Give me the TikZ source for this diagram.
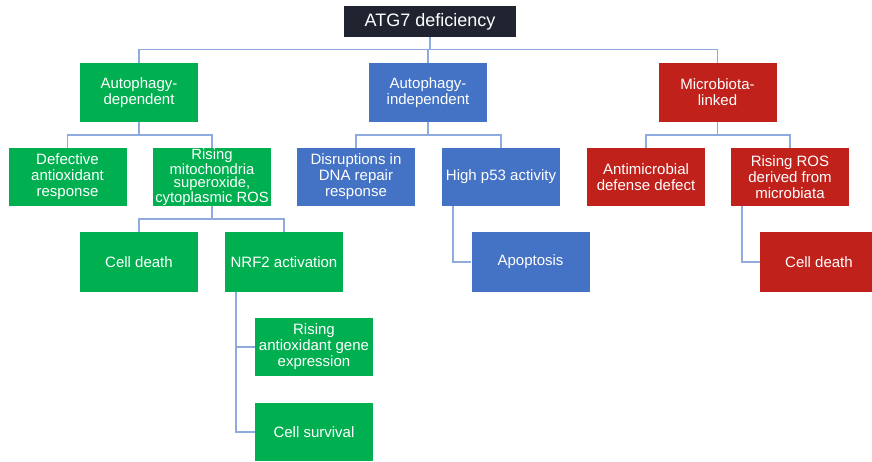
\documentclass[tikz,border=0pt]{standalone}
\usepackage{fontspec}
\setmainfont{Liberation Sans}
\usepackage{tikz}

\definecolor{rootbg}{RGB}{31,36,48}
\definecolor{boxgreen}{RGB}{0,176,80}
\definecolor{boxblue}{RGB}{68,114,196}
\definecolor{boxred}{RGB}{192,33,26}
\definecolor{linkblue}{RGB}{143,170,220}

\begin{document}
\begin{tikzpicture}[x=1pt,y=-1pt,
    box/.style={minimum width=118pt,minimum height=58pt,inner sep=0pt,
      text=white,align=center,font=\fontsize{15}{16}\selectfont},
    gbox/.style={box,fill=boxgreen},
    bbox/.style={box,fill=boxblue},
    rbox/.style={box,fill=boxred},
    link/.style={draw=linkblue,line width=1.5pt}]
  \useasboundingbox (0,0) rectangle (872,461);

  % Root
  \node[fill=rootbg,text=white,minimum width=172pt,minimum height=31pt,inner sep=0pt,
    font=\fontsize{18}{20}\selectfont] (root) at (430,21.5) {ATG7 deficiency};

  % First level
  \node[gbox,minimum height=59pt] (adep) at (139,92.5) {Autophagy-\\dependent};
  \node[bbox,minimum height=59pt] (aind) at (428,92.5) {Autophagy-\\independent};
  \node[rbox,minimum height=59pt] (micro) at (717.5,92.5) {Microbiota-\\linked};

  % Second level
  \node[gbox] (defect) at (67.5,177) {Defective\\antioxidant\\response};
  \node[gbox,font=\fontsize{14.8}{13.5}\selectfont] (rising) at (212,177)
    {Rising\\mitochondria\\superoxide,\\cytoplasmic ROS};
  \node[bbox] (dna) at (356,177) {Disruptions in\\DNA repair\\response};
  \node[bbox] (p53) at (501,177) {High p53 activity};
  \node[rbox] (antimic) at (646,177) {Antimicrobial\\defense defect};
  \node[rbox] (rosmic) at (790,177) {Rising ROS\\derived from\\microbiata};

  % Third level
  \node[gbox,minimum height=60pt] (death1) at (139,262) {Cell death};
  \node[gbox,minimum height=60pt] (nrf2) at (284,262) {NRF2 activation};
  \node[bbox,minimum height=60pt] (apop) at (530.5,262) {Apoptosis};
  \node[rbox,minimum height=60pt] (death2) at (819,262) {Cell death};

  % Fourth level
  \node[gbox] (gene) at (314,347) {Rising\\antioxidant gene\\expression};
  \node[gbox] (surv) at (314,432) {Cell survival};

  % Tree connectors
  \draw[link] (root.south) -- ++(0,12.5) -| (adep.north);
  \draw[link] (root.south) -- ++(0,12.5) -| (aind.north);
  \draw[link] (root.south) -- ++(0,12.5) -| (micro.north);
  \foreach \p/\a/\b in {adep/defect/rising,aind/dna/p53,micro/antimic/rosmic,rising/death1/nrf2}
    {\draw[link] (\p.south) -- ++(0,13) -| (\a.north);
     \draw[link] (\p.south) -- ++(0,13) -| (\b.north);}

  % Side connectors
  \draw[link] ([xshift=-48pt]p53.south) |- (apop.west);
  \draw[link] ([xshift=-48pt]rosmic.south) |- (death2.west);
  \draw[link] ([xshift=-48pt]nrf2.south) |- (gene.west);
  \draw[link] ([xshift=-48pt]nrf2.south) |- (surv.west);
\end{tikzpicture}
\end{document}
